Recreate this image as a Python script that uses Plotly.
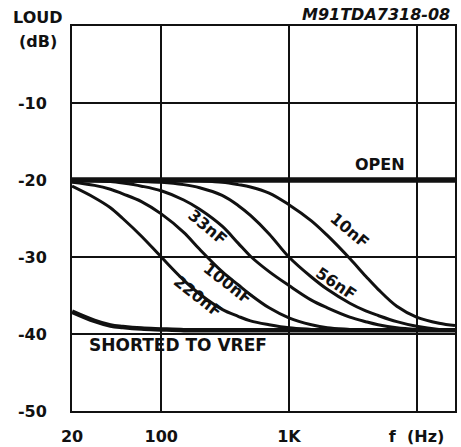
import math
import plotly.graph_objects as go

# ---- data ----
freqs = [20, 30, 40, 50, 70, 100, 150, 200, 300, 400, 500, 700,
         1000, 1500, 2000, 3000, 4000, 5000, 7000, 10000, 15000, 20000]

open_db = [-20.0] * len(freqs)

c220_db = [-20.8, -22.3, -23.6, -25.0, -27.3, -30.0, -33.0, -34.8, -36.8, -37.7, -38.3, -38.8,
           -39.2, -39.4, -39.5, -39.5, -39.5, -39.5, -39.5, -39.5, -39.5, -39.5]
c100_db = [-20.3, -20.7, -21.2, -21.8, -22.8, -24.4, -26.8, -29.0, -31.9, -33.6, -34.9, -36.6,
           -37.9, -38.8, -39.2, -39.4, -39.5, -39.5, -39.5, -39.5, -39.5, -39.5]
c33_db = [-20.0, -20.1, -20.2, -20.4, -20.8, -21.4, -22.6, -23.8, -26.0, -28.2, -29.9, -31.9,
          -33.7, -35.6, -36.6, -37.8, -38.4, -38.8, -39.2, -39.4, -39.5, -39.5]
c56_db = [-20.0, -20.0, -20.0, -20.1, -20.2, -20.3, -20.6, -21.0, -22.0, -23.3, -24.6, -27.0,
          -30.0, -32.6, -34.2, -36.0, -37.0, -37.6, -38.4, -39.0, -39.4, -39.5]
c10_db = [-20.0, -20.0, -20.0, -20.0, -20.0, -20.0, -20.0, -20.1, -20.3, -20.6, -20.9, -21.7,
          -23.2, -25.3, -27.2, -30.2, -32.5, -34.2, -36.4, -37.8, -38.6, -38.9]
shorted_db = [-37.1, -38.3, -38.9, -39.1, -39.3, -39.4, -39.5, -39.5, -39.5, -39.5, -39.5, -39.5,
              -39.5, -39.5, -39.5, -39.5, -39.5, -39.5, -39.5, -39.5, -39.5, -39.5]

y_ticks = [-10, -20, -30, -40, -50]
y_tick_text = ["-10", "-20", "-30", "-40", "-50"]
x_ticks = [20, 100, 1000, 10000]
x_tick_text = ["20", "100", "1K", "f  (Hz)"]

FONT = "DejaVu Sans"
INK = "#111111"

fig = go.Figure()

series = [
    ("SHORTED TO VREF", shorted_db, 4.5),
    ("220nF", c220_db, 3),
    ("100nF", c100_db, 3),
    ("33nF", c33_db, 3),
    ("56nF", c56_db, 3),
    ("10nF", c10_db, 3),
    ("OPEN", open_db, 5.5),
]
for name, ys, w in series:
    fig.add_trace(go.Scatter(x=freqs, y=ys, mode="lines", name=name,
                             line=dict(color=INK, width=w, shape="spline", smoothing=1.0),
                             showlegend=False, hoverinfo="skip"))

def lab(text, f, db, angle=0, size=16):
    fig.add_annotation(x=math.log10(f), y=db, xref="x", yref="y", text=text,
                       showarrow=False, textangle=angle, xanchor="center", yanchor="middle",
                       font=dict(family=FONT, size=size, color=INK, weight="bold"))

lab("OPEN", 5160, -18.05)
lab("10nF", 3000, -26.6, 40)
lab("56nF", 2340, -33.4, 34)
lab("33nF", 232, -26.2, 40)
lab("100nF", 333, -33.4, 38)
lab("220nF", 194, -35.1, 38)
lab("SHORTED TO VREF", 135, -41.4, 0, 17)

def paper_lab(text, x, y, size=16):
    fig.add_annotation(x=x, y=y, xref="paper", yref="paper", text=text,
                       showarrow=False, xanchor="center", yanchor="middle",
                       font=dict(family=FONT, size=size, color=INK, weight="bold"))

paper_lab("LOUD", -0.089, 1.023)
paper_lab("(dB)", -0.089, 0.961)
paper_lab("<i>M91TDA7318-08</i>", 0.794, 1.031, 16)

fig.update_xaxes(type="log", range=[math.log10(20), math.log10(20000)],
                 tickvals=x_ticks, ticktext=x_tick_text, ticks="",
                 showgrid=True, gridcolor=INK, gridwidth=2,
                 showline=True, linecolor=INK, linewidth=2, mirror=True,
                 zeroline=False, ticklabelstandoff=10, automargin=False,
                 tickfont=dict(family=FONT, size=16, color=INK, weight="bold"))
fig.update_yaxes(range=[-50, 0], tickvals=y_ticks, ticktext=y_tick_text, ticks="",
                 showgrid=True, gridcolor=INK, gridwidth=2,
                 showline=True, linecolor=INK, linewidth=2, mirror=True,
                 zeroline=False, ticklabelstandoff=20, automargin=False,
                 tickfont=dict(family=FONT, size=16, color=INK, weight="bold"))

fig.update_layout(width=461, height=447,
                  margin=dict(l=72, r=6, t=26, b=36),
                  paper_bgcolor="white", plot_bgcolor="white")

fig.write_html("out.html", config={"displayModeBar": False},
               post_script="document.body.style.margin='0';document.body.style.overflow='hidden';")
